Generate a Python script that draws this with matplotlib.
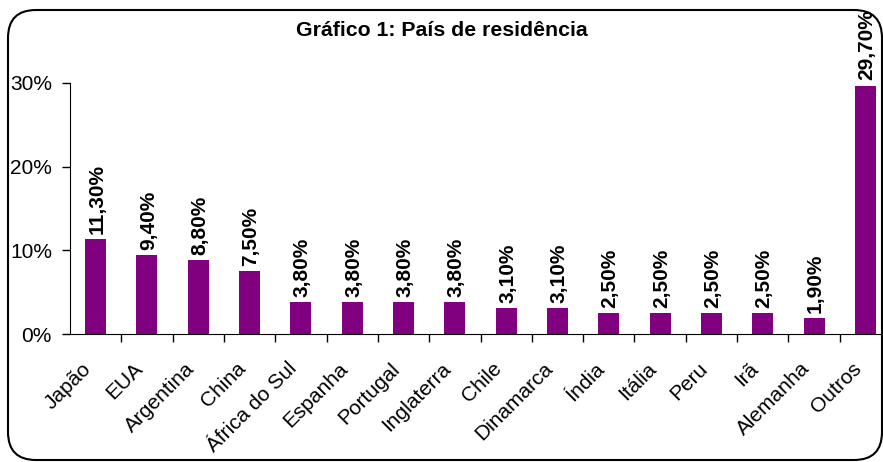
import matplotlib
matplotlib.use('Agg')
import matplotlib.pyplot as plt
from matplotlib.patches import FancyBboxPatch
from matplotlib.transforms import IdentityTransform
from matplotlib.ticker import FuncFormatter, FixedLocator

plt.rcParams['font.family'] = ['Liberation Sans', 'DejaVu Sans']

paises = ['Japão', 'EUA', 'Argentina', 'China', 'África do Sul', 'Espanha',
          'Portugal', 'Inglaterra', 'Chile', 'Dinamarca', 'Índia', 'Itália',
          'Peru', 'Irã', 'Alemanha', 'Outros']
percentuais = [11.3, 9.4, 8.8, 7.5, 3.8, 3.8, 3.8, 3.8, 3.1, 3.1,
               2.5, 2.5, 2.5, 2.5, 1.9, 29.7]

roxo = '#800080'

fig = plt.figure(figsize=(8.83, 4.62), dpi=100)
ax = fig.add_axes([70 / 883, 1 - 334 / 462, 821 / 883, 251 / 462])

x = range(len(paises))
ax.bar(x, percentuais, width=0.41, color=roxo, zorder=2)

for i, v in enumerate(percentuais):
    ax.annotate(f'{v:.2f}'.replace('.', ',') + '%', (i, v),
                xytext=(1, 4), textcoords='offset points', rotation=90,
                ha='center', va='bottom', fontsize=15, fontweight='bold',
                annotation_clip=False)

ax.set_xlim(-0.5, len(paises) - 0.5)
ax.set_ylim(0, 30)
ax.set_yticks([0, 10, 20, 30])
ax.yaxis.set_major_formatter(FuncFormatter(lambda v, p: f'{v:.0f}%'))
ax.tick_params(axis='y', labelsize=15, length=6, width=1, pad=7)

# ticks between categories, labels under bars
ax.xaxis.set_major_locator(FixedLocator([i + 0.5 for i in range(len(paises) - 1)]))
ax.xaxis.set_major_formatter(FuncFormatter(lambda v, p: ''))
ax.set_xticks([i - 0.27 for i in x], minor=True)
ax.set_xticklabels(paises, minor=True, rotation=45, ha='right',
                   rotation_mode='anchor', fontsize=15)
ax.tick_params(axis='x', which='major', length=6, width=1, direction='out')
ax.tick_params(axis='x', which='minor', length=0, pad=18)

ax.spines['top'].set_visible(False)
ax.spines['right'].set_visible(False)

fig.text(442 / 883, 1 - 30 / 462, 'Gráfico 1: País de residência',
         ha='center', va='center', fontsize=15.3, fontweight='bold')

moldura = FancyBboxPatch((8, 2), 874, 450,
                         boxstyle='round,pad=0,rounding_size=28',
                         transform=IdentityTransform(), fill=False,
                         edgecolor='black', linewidth=1.5)
fig.patches.append(moldura)

fig.savefig('out.png', dpi=100)
